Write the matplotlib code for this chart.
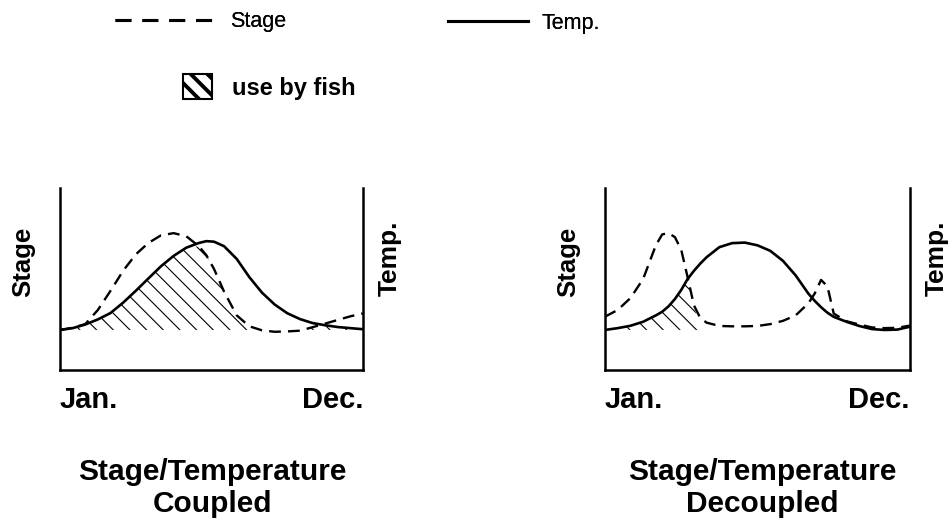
import matplotlib
matplotlib.use("Agg")
import matplotlib.pyplot as plt
from matplotlib.lines import Line2D
from matplotlib.patches import Patch
import numpy as np

plt.rcParams['font.family'] = ['Liberation Sans', 'DejaVu Sans']
plt.rcParams['hatch.linewidth'] = 0.8

# months, Jan (0) .. Dec (12)
x_coupled = np.array([0, 0.5, 1, 1.5, 2, 2.5, 3, 3.5, 4, 4.5, 5, 5.5, 5.8, 6.1, 6.5,
                      7, 7.5, 8, 8.5, 9, 9.5, 10, 10.5, 11, 11.5, 12])
temp_coupled = np.array([2.2, 2.3, 2.5, 2.78, 3.13, 3.7, 4.35, 5.03, 5.7, 6.27,
                         6.72, 6.98, 7.08, 7.05, 6.8, 6.1, 5.1, 4.25, 3.6, 3.12, 2.8,
                         2.58, 2.46, 2.36, 2.3, 2.24])
stage_coupled = np.array([2.2, 2.32, 2.52, 3.3, 4.35, 5.45, 6.35, 6.98, 7.4, 7.52,
                          7.35, 6.8, 6.3, 5.55, 4.3, 3.0, 2.4, 2.18, 2.1, 2.12, 2.16,
                          2.35, 2.55, 2.75, 2.95, 3.11])

x_decoupled = np.array([0, 0.5, 1, 1.5, 2, 2.25, 2.5, 2.75, 3, 3.25, 3.5, 3.75, 4,
                        4.5, 5, 5.5, 6, 6.5, 7, 7.5, 8, 8.25, 8.5, 8.75, 9, 9.5,
                        10, 10.5, 11, 11.5, 12])
temp_decoupled = np.array([2.2, 2.3, 2.43, 2.65, 3.0, 3.2, 3.5, 3.9, 4.4, 5.0, 5.45,
                           5.85, 6.2, 6.75, 6.97, 7.0, 6.85, 6.55, 6.0, 5.2, 4.2,
                           3.8, 3.45, 3.15, 2.92, 2.65, 2.42, 2.25, 2.2, 2.22, 2.38])
stage_decoupled = np.array([2.93, 3.3, 3.95, 5.0, 6.85, 7.45, 7.52, 7.3, 6.6, 5.1,
                            3.55, 2.85, 2.6, 2.42, 2.4, 2.4, 2.42, 2.52, 2.7, 3.0,
                            3.66, 4.2, 4.95, 4.6, 3.1, 2.68, 2.5, 2.34, 2.3, 2.32, 2.44])

# months in which fish use the floodplain (hatched)
use_end_coupled = 12
use_end_decoupled = 3.5

titles = ["Stage/Temperature\nCoupled", "Stage/Temperature\nDecoupled"]

W, H = 950, 519
fig = plt.figure(figsize=(W / 100, H / 100), dpi=100)

panels = [
    (60, 303, x_coupled, temp_coupled, stage_coupled, use_end_coupled, titles[0], 212),
    (605, 305, x_decoupled, temp_decoupled, stage_decoupled, use_end_decoupled, titles[1], 762),
]

for left, width, x, temp, stage, use_end, title, tx in panels:
    ax = fig.add_axes([left / W, (H - 370) / H, width / W, 182 / H])
    ax.set_xlim(0, 12)
    ax.set_ylim(0, 10)
    ax.set_xticks([])
    ax.set_yticks([])
    ax.spines['top'].set_visible(False)
    for s in ['left', 'right', 'bottom']:
        ax.spines[s].set_linewidth(1.8)

    base = temp[0]
    top = np.minimum(temp, stage)
    ax.fill_between(x, base, top, where=(top > base) & (x <= use_end),
                    interpolate=True, facecolor='none', edgecolor='black',
                    hatch='\\\\', linewidth=0)
    ax.plot(x, stage, color='black', lw=1.7, dashes=(5, 3))
    ax.plot(x, temp, color='black', lw=1.9)

    ax.text(0, -0.09, "Jan.", transform=ax.transAxes, ha='left', va='top',
            fontsize=21, fontweight='bold')
    ax.text(1, -0.09, "Dec.", transform=ax.transAxes, ha='right', va='top',
            fontsize=21, fontweight='bold')
    fig.text((left - 37) / W, 1 - 262 / H, "Stage", rotation=90, ha='center',
             va='center', fontsize=18.5, fontweight='bold')
    fig.text((left + width + 27) / W, 1 - 258 / H, "Temp.", rotation=90,
             ha='center', va='center', fontsize=19, fontweight='bold')
    fig.text(tx / W, 1 - 458 / H, title, ha='center', va='top', fontsize=21.5,
             fontweight='bold', linespacing=1.2)

# legend
fs = 15.5
fs_px = fs * 100 / 72
leg1 = fig.legend(handles=[Line2D([], [], color='black', lw=2.2, dashes=(5.2, 3.6))],
                  labels=["Stage"], loc='center left',
                  bbox_to_anchor=(115 / W, 1 - 22 / H), frameon=False,
                  borderpad=0, borderaxespad=0, fontsize=fs,
                  handlelength=97 / fs_px, handletextpad=18 / fs_px)
fig.add_artist(leg1)
leg2 = fig.legend(handles=[Line2D([], [], color='black', lw=2.2)],
                  labels=["Temp."], loc='center left',
                  bbox_to_anchor=(448 / W, 1 - 23 / H), frameon=False,
                  borderpad=0, borderaxespad=0, fontsize=fs,
                  handlelength=80 / fs_px, handletextpad=14 / fs_px)
fig.add_artist(leg2)

fs3 = 17
fs3_px = fs3 * 100 / 72
hatch_handle = Patch(facecolor='white', edgecolor='black', hatch='\\\\', linewidth=1.5)
leg3 = fig.legend(handles=[hatch_handle], labels=["use by fish"], loc='center left',
                  bbox_to_anchor=(183 / W, 1 - 87 / H), frameon=False,
                  borderpad=0, borderaxespad=0, handlelength=29 / fs3_px,
                  handleheight=29 / fs3_px, handletextpad=20 / fs3_px,
                  prop={'size': fs3, 'weight': 'bold'})
for h in leg3.legend_handles:
    if hasattr(h, 'set_hatch_linewidth'):
        h.set_hatch_linewidth(2.8)

fig.savefig("out.png", dpi=100)
